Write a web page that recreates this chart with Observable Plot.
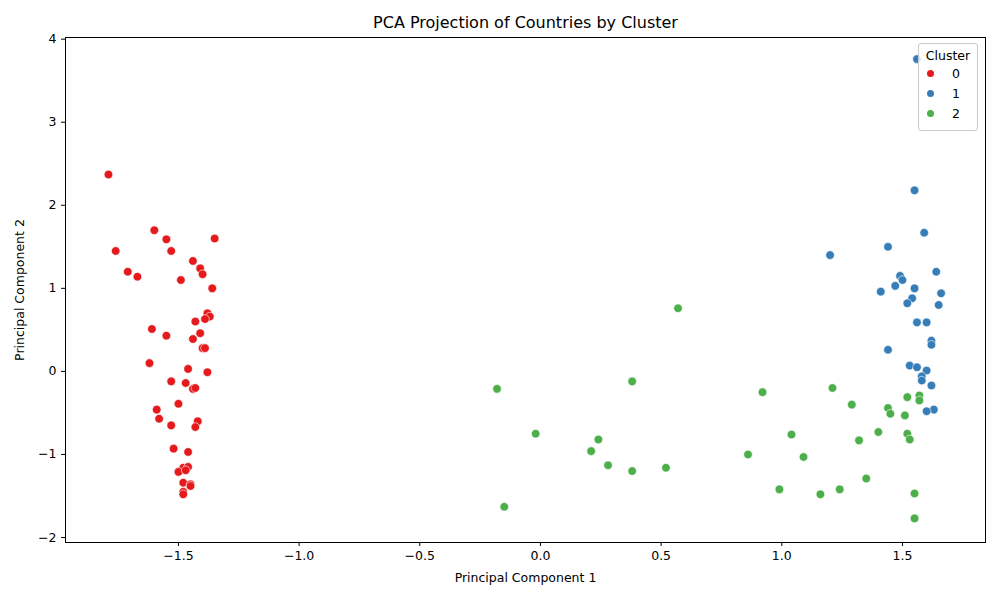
<!DOCTYPE html>
<html>
<head>
<meta charset="utf-8">
<script src="https://cdn.jsdelivr.net/npm/d3@7"></script>
<script src="https://cdn.jsdelivr.net/npm/@observablehq/plot@0.6"></script>
<style>
  body { margin: 0; background: #fff; font-family: 'DejaVu Sans', sans-serif; }
  #wrap { position: relative; width: 1000px; height: 600px; }
  #legend { position: absolute; left: 918px; top: 43px; width: 60px; height: 88px; box-sizing: border-box;
    border: 1px solid #ccc; border-radius: 3px; background: rgba(255,255,255,0.8); font-size: 12.5px; }
  #legend .t { text-align: center; margin-top: 4px; }
  #legend .r { display: flex; align-items: center; height: 20px; padding-left: 8px; }
  #legend .r span.d { width: 7px; height: 7px; border-radius: 50%; display: inline-block; margin-right: 18px; }
</style>
</head>
<body>
<div id="wrap"><div id="chart"></div><div id="legend"></div></div>
<script>
const clusters = [0, 1, 2];
const colors = ['#e41a1c', '#377eb8', '#4daf4a'];

const cluster0 = [[-1.79,2.37],[-1.60,1.70],[-1.55,1.59],[-1.35,1.60],[-1.76,1.45],[-1.53,1.45],[-1.44,1.33],[-1.41,1.24],[-1.40,1.17],[-1.71,1.20],[-1.67,1.14],[-1.49,1.10],[-1.36,1.00],[-1.38,0.70],[-1.37,0.66],[-1.39,0.63],[-1.43,0.60],[-1.61,0.51],[-1.55,0.43],[-1.41,0.46],[-1.44,0.39],[-1.40,0.28],[-1.39,0.28],[-1.62,0.10],[-1.46,0.03],[-1.38,-0.01],[-1.53,-0.12],[-1.47,-0.14],[-1.44,-0.21],[-1.43,-0.20],[-1.50,-0.39],[-1.59,-0.46],[-1.58,-0.57],[-1.42,-0.60],[-1.53,-0.65],[-1.43,-0.67],[-1.52,-0.93],[-1.46,-0.97],[-1.48,-1.16],[-1.46,-1.15],[-1.50,-1.21],[-1.47,-1.19],[-1.48,-1.34],[-1.45,-1.36],[-1.45,-1.38],[-1.48,-1.45],[-1.48,-1.48]];
const cluster1 = [[1.56,3.76],[1.55,2.18],[1.59,1.67],[1.44,1.50],[1.20,1.40],[1.49,1.15],[1.50,1.10],[1.64,1.20],[1.47,1.03],[1.41,0.96],[1.55,1.00],[1.54,0.88],[1.52,0.82],[1.66,0.94],[1.65,0.80],[1.56,0.59],[1.60,0.59],[1.62,0.37],[1.62,0.32],[1.44,0.26],[1.53,0.07],[1.56,0.05],[1.60,0.01],[1.58,-0.06],[1.58,-0.11],[1.62,-0.17],[1.63,-0.46],[1.60,-0.48]];
const cluster2 = [[0.57,0.76],[-0.18,-0.21],[0.38,-0.12],[0.92,-0.25],[1.21,-0.20],[1.29,-0.40],[1.57,-0.29],[1.57,-0.35],[1.52,-0.31],[1.44,-0.44],[1.45,-0.51],[1.51,-0.53],[-0.02,-0.75],[0.24,-0.82],[1.04,-0.76],[1.40,-0.73],[1.32,-0.83],[1.52,-0.75],[1.53,-0.82],[0.21,-0.96],[0.86,-1.00],[1.09,-1.03],[0.28,-1.13],[0.38,-1.20],[0.52,-1.16],[1.35,-1.29],[0.99,-1.42],[1.16,-1.48],[1.24,-1.42],[1.55,-1.47],[-0.15,-1.63],[1.55,-1.77]];

const data = [cluster0, cluster1, cluster2].flatMap((pts, i) =>
  pts.map(([x, y]) => ({pc1: x, pc2: y, cluster: clusters[i]})));

const chart = Plot.plot({
  width: 1000,
  height: 600,
  marginLeft: 65,
  marginRight: 15,
  marginTop: 37,
  marginBottom: 58,
  style: {fontFamily: 'DejaVu Sans, sans-serif', fontSize: '12.5px', color: '#000'},
  x: {domain: [-1.968, 1.844]},
  y: {domain: [-2.06, 4.02]},
  color: {domain: clusters, range: colors},
  marks: [
    Plot.frame({stroke: '#000'}),
    Plot.axisX({ticks: [-1.5, -1, -0.5, 0, 0.5, 1, 1.5], tickFormat: d => d.toFixed(1).replace('-', '−'),
      label: 'Principal Component 1', labelAnchor: 'center', labelOffset: 39, labelArrow: false, tickSize: 4, stroke: '#000'}),
    Plot.axisY({ticks: [-2, -1, 0, 1, 2, 3, 4], tickFormat: d => String(d).replace('-', '−'),
      label: 'Principal Component 2', labelAnchor: 'center', labelOffset: 50, labelArrow: false, tickSize: 4, stroke: '#000'}),
    Plot.dot(data, {x: 'pc1', y: 'pc2', fill: 'cluster', r: 4.3, stroke: 'white', strokeWidth: 0.6}),
    Plot.text(['PCA Projection of Countries by Cluster'], {frameAnchor: 'top', dy: -21, fontSize: 16, fill: '#000'})
  ]
});
document.getElementById('chart').append(chart);

const legend = d3.select('#legend');
legend.append('div').attr('class', 't').text('Cluster');
clusters.forEach((c, i) => {
  const r = legend.append('div').attr('class', 'r');
  r.append('span').attr('class', 'd').style('background', colors[i]);
  r.append('span').text(c);
});
</script>
</body>
</html>
